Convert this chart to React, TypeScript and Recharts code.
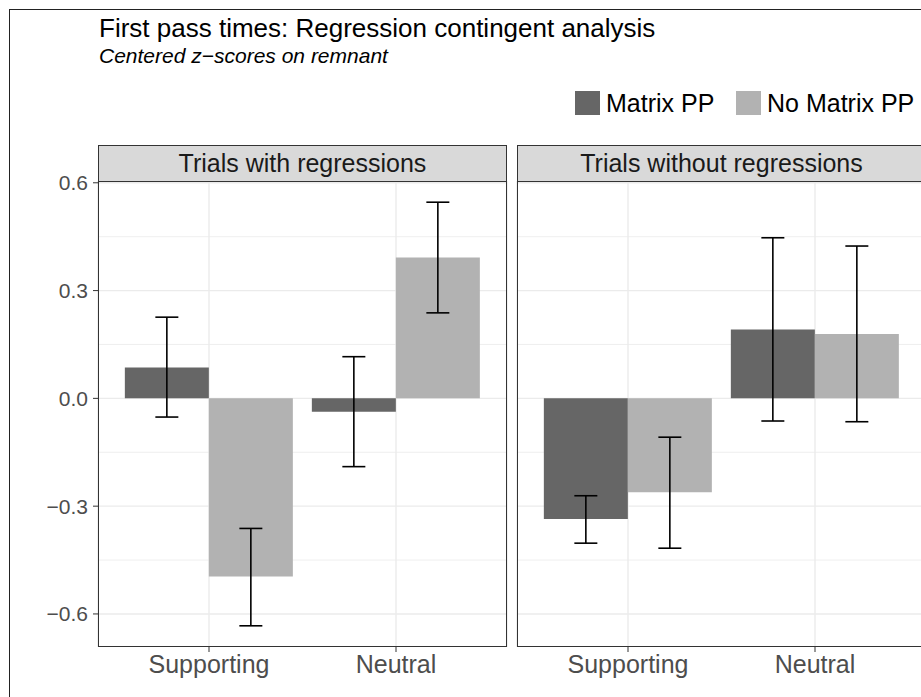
import React from 'react';
import { BarChart, Bar, XAxis, YAxis, CartesianGrid, ErrorBar } from 'recharts';

const CATEGORIES = ['Supporting', 'Neutral'];
const PANELS = ['Trials with regressions', 'Trials without regressions'];
const SERIES = ['Matrix PP', 'No Matrix PP'];
const COLORS = ['#666666', '#b2b2b2'];

// trials with regressions
const WITH_MATRIX = [0.086, -0.037];
const WITH_MATRIX_LO = [-0.052, -0.19];
const WITH_MATRIX_HI = [0.226, 0.116];
const WITH_NOMATRIX = [-0.496, 0.392];
const WITH_NOMATRIX_LO = [-0.633, 0.238];
const WITH_NOMATRIX_HI = [-0.362, 0.546];

// trials without regressions
const WITHOUT_MATRIX = [-0.336, 0.192];
const WITHOUT_MATRIX_LO = [-0.403, -0.063];
const WITHOUT_MATRIX_HI = [-0.271, 0.447];
const WITHOUT_NOMATRIX = [-0.261, 0.179];
const WITHOUT_NOMATRIX_LO = [-0.417, -0.065];
const WITHOUT_NOMATRIX_HI = [-0.108, 0.424];

const Y_TICKS = [-0.6, -0.3, 0, 0.3, 0.6];
const Y_MINOR = [-0.45, -0.15, 0.15, 0.45];
const Y_DOMAIN = [-0.692, 0.605];

const FONT = '"Liberation Sans", Arial, Helvetica, sans-serif';
const PLOT_TOP = 181;
const PLOT_H = 466;
const PANEL_W = 409;

function buildRows(m: number[], mLo: number[], mHi: number[], n: number[], nLo: number[], nHi: number[]) {
  return CATEGORIES.map((cat, i) => ({
    cat,
    matrix: m[i],
    matrixErr: [m[i] - mLo[i], mHi[i] - m[i]],
    noMatrix: n[i],
    noMatrixErr: [n[i] - nLo[i], nHi[i] - n[i]],
  }));
}

const ROWS = [
  buildRows(WITH_MATRIX, WITH_MATRIX_LO, WITH_MATRIX_HI, WITH_NOMATRIX, WITH_NOMATRIX_LO, WITH_NOMATRIX_HI),
  buildRows(WITHOUT_MATRIX, WITHOUT_MATRIX_LO, WITHOUT_MATRIX_HI, WITHOUT_NOMATRIX, WITHOUT_NOMATRIX_LO, WITHOUT_NOMATRIX_HI),
];

const fmt = (v: number) => v.toFixed(1).replace('-', '\u2212');

function Panel({ rows, title, plotLeft, showY }: { rows: any[]; title: string; plotLeft: number; showY: boolean }) {
  const chartLeft = showY ? 0 : plotLeft - 7;
  const marginLeft = showY ? 0 : 7;
  const yWidth = showY ? plotLeft : 0;
  const width = plotLeft - chartLeft + PANEL_W + 14;
  return (
    <>
      <div style={{ position: 'absolute', left: chartLeft, top: 140 }}>
        <BarChart
          width={width}
          height={557}
          data={rows}
          margin={{ top: PLOT_TOP - 140, right: 14, bottom: 0, left: marginLeft }}
          barCategoryGap="5%"
          barGap={0}
        >
          <CartesianGrid horizontalValues={Y_MINOR} vertical={false} stroke="#ebebeb" strokeWidth={0.8} />
          <CartesianGrid horizontalValues={Y_TICKS} stroke="#ebebeb" strokeWidth={1.4} />
          <XAxis
            dataKey="cat"
            height={50}
            padding={{ left: 17.5, right: 17.5 }}
            axisLine={false}
            tickSize={5}
            tickMargin={3}
            tickLine={{ stroke: '#333333' }}
            tick={{ fill: '#4d4d4d', fontSize: 25, fontFamily: FONT }}
          />
          <YAxis
            hide={!showY}
            width={yWidth}
            domain={Y_DOMAIN}
            ticks={Y_TICKS}
            allowDataOverflow
            axisLine={false}
            tickSize={5}
            tickMargin={5}
            tickLine={{ stroke: '#333333' }}
            tickFormatter={fmt}
            tick={{ fill: '#4d4d4d', fontSize: 21, fontFamily: FONT }}
          />
          <Bar dataKey="matrix" name={SERIES[0]} fill={COLORS[0]} isAnimationActive={false}>
            <ErrorBar dataKey="matrixErr" width={11.5} stroke="#000" strokeWidth={1.6} />
          </Bar>
          <Bar dataKey="noMatrix" name={SERIES[1]} fill={COLORS[1]} isAnimationActive={false}>
            <ErrorBar dataKey="noMatrixErr" width={11.5} stroke="#000" strokeWidth={1.6} />
          </Bar>
        </BarChart>
      </div>
      {/* panel border */}
      <div
        style={{
          position: 'absolute', left: plotLeft, top: PLOT_TOP, width: PANEL_W, height: PLOT_H,
          border: '1px solid #333', boxSizing: 'border-box', pointerEvents: 'none',
        }}
      />
      {/* facet strip */}
      <div
        style={{
          position: 'absolute', left: plotLeft, top: 145, width: PANEL_W, height: 37,
          background: '#d9d9d9', border: '1px solid #333', boxSizing: 'border-box',
          display: 'flex', alignItems: 'center', justifyContent: 'center',
          fontSize: 25, color: '#1a1a1a', fontFamily: FONT,
        }}
      >
        {title}
      </div>
    </>
  );
}

export default function App() {
  return (
    <div
      style={{
        position: 'absolute', left: 0, top: 0, width: 921, height: 697,
        overflow: 'hidden', background: '#fff', fontFamily: FONT,
      }}
    >
      <div
        style={{
          position: 'absolute', left: 8.5, top: 8.5, width: 1200, height: 1000,
          borderLeft: '1.5px solid #222', borderTop: '1.5px solid #222',
        }}
      />
      <div style={{ position: 'absolute', left: 99, top: 14.5, fontSize: 26, lineHeight: 1, color: '#000', whiteSpace: 'nowrap' }}>
        First pass times: Regression contingent analysis
      </div>
      <div style={{ position: 'absolute', left: 99, top: 45, fontSize: 21, lineHeight: 1, fontStyle: 'italic', color: '#000', whiteSpace: 'nowrap' }}>
        Centered z{'\u2212'}scores on remnant
      </div>
      {SERIES.map((s, i) => (
        <div key={s} style={{ position: 'absolute', left: i === 0 ? 575 : 736, top: 91, display: 'flex', alignItems: 'center', whiteSpace: 'nowrap' }}>
          <div style={{ width: 25, height: 24, background: COLORS[i] }} />
          <div style={{ marginLeft: 6, fontSize: 25, lineHeight: '24px', color: '#000' }}>{s}</div>
        </div>
      ))}
      <Panel rows={ROWS[0]} title={PANELS[0]} plotLeft={98} showY />
      <Panel rows={ROWS[1]} title={PANELS[1]} plotLeft={517} showY={false} />
    </div>
  );
}
